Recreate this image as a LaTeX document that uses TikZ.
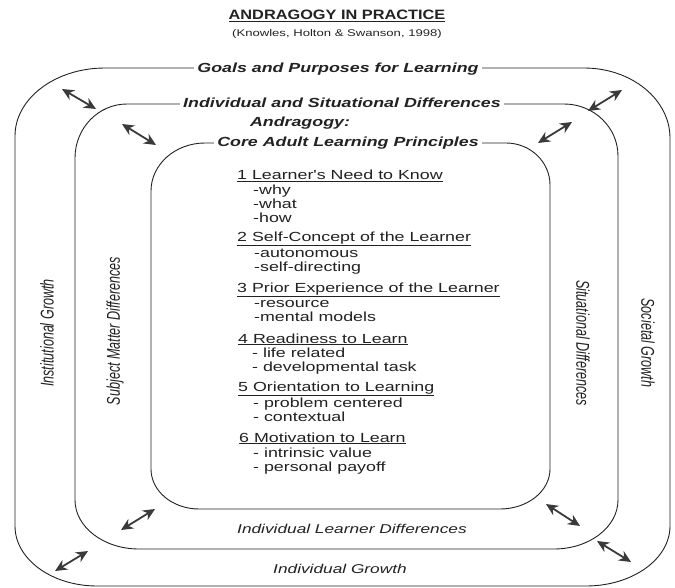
\documentclass[tikz,border=0pt]{standalone}
\usepackage{fontspec}
\setmainfont{Liberation Sans}
\newfontfamily\wf[FakeStretch=1.35]{Liberation Sans}
\newfontfamily\tf[FakeStretch=1.2]{Liberation Sans}
\newfontfamily\nf[FakeStretch=0.68]{Liberation Sans}
\usetikzlibrary{arrows.meta}
\definecolor{ink}{HTML}{222222}
\definecolor{arr}{HTML}{3A3A3A}
\begin{document}
\begin{tikzpicture}[x=1pt,y=-1pt,
  frame/.style={draw=ink,line width=0.9pt},
  onframe/.style={fill=white,inner xsep=3pt,inner ysep=1pt,text=ink,font=\wf\bfseries\itshape\fontsize{13.2}{15}\selectfont},
  item/.style={inner sep=0pt,text=ink,font=\wf\fontsize{13.2}{14}\selectfont,anchor=base west},
  side/.style={inner sep=0pt,text=ink,font=\nf\itshape\fontsize{18.5}{20}\selectfont},
  bot/.style={inner sep=0pt,text=ink,font=\wf\itshape\fontsize{12.8}{14}\selectfont},
  dbl/.style={arr,line width=1.8pt,{Stealth[length=12pt,width=11pt]}-{Stealth[length=12pt,width=11pt]}}]
\useasboundingbox (0,0) rectangle (675,588);
\fill[white] (0,0) rectangle (675,588);
% outer frame: L=15 R=670 T=68 B=586
\draw[frame] (105,68) -- (584,68) arc[start angle=-90,end angle=0,x radius=86,y radius=70]
  -- (670,526) arc[start angle=0,end angle=90,x radius=84,y radius=60]
  -- (97,586) arc[start angle=90,end angle=180,x radius=82,y radius=60]
  -- (15,136) arc[start angle=180,end angle=270,x radius=90,y radius=68] -- cycle;
% middle frame: L=75 R=618 T=104 B=549
\draw[frame] (127,104) -- (564,104) arc[start angle=-90,end angle=0,x radius=54,y radius=52]
  -- (618,500) arc[start angle=0,end angle=90,x radius=64,y radius=49]
  -- (139,549) arc[start angle=90,end angle=180,x radius=64,y radius=49]
  -- (75,158) arc[start angle=180,end angle=270,x radius=52,y radius=54] -- cycle;
% inner frame: L=151 R=550 T=143 B=509
\draw[frame] (205,143) -- (506,143) arc[start angle=-90,end angle=0,x radius=44,y radius=42]
  -- (550,469) arc[start angle=0,end angle=90,x radius=50,y radius=40]
  -- (199,509) arc[start angle=90,end angle=180,x radius=48,y radius=40]
  -- (151,191) arc[start angle=180,end angle=270,x radius=54,y radius=48] -- cycle;
% title
\node[inner sep=0pt,text=ink,font=\tf\bfseries\fontsize{13.6}{16}\selectfont] (title) at (337,16) {\underline{ANDRAGOGY IN PRACTICE}};
\node[inner sep=0pt,text=ink,font=\wf\fontsize{9.7}{12}\selectfont] (sub) at (337,34) {(Knowles, Holton \& Swanson, 1998)};
% labels on frames
\node[onframe] (goals) at (338,69) {Goals and Purposes for Learning};
\node[onframe] (isd) at (342,103) {Individual and Situational Differences};
\node[inner sep=0pt,text=ink,font=\wf\bfseries\itshape\fontsize{13.2}{15}\selectfont] (andr) at (300,123) {Andragogy:};
\node[onframe] (core) at (348,143) {Core Adult Learning Principles};
% list
\foreach \n/\xx/\yy/\t in {
  h1/237/179.5/{\underline{1 Learner's Need to Know}},
  a1/253/194.5/{-why}, a2/253/208.5/{-what}, a3/253/222.5/{-how},
  h2/237/241.5/{\underline{2 Self-Concept of the Learner}},
  b1/254/257.5/{-autonomous}, b2/254/272/{-self-directing},
  h3/237/292/{\underline{3 Prior Experience of the Learner}},
  c1/254/307.5/{-resource}, c2/254/321.5/{-mental models},
  h4/238/343/{\underline{4 Readiness to Learn}},
  d1/252/357.5/{- life related}, d2/252/371.5/{- developmental task},
  h5/238/391/{\underline{5 Orientation to Learning}},
  e1/253/407/{- problem centered}, e2/253/421/{- contextual},
  h6/239/442/{\underline{6 Motivation to Learn}},
  f1/253/457.5/{- intrinsic value}, f2/253/471.5/{- personal payoff}}
  {\node[item] (\n) at (\xx,\yy) {\t};}
% bottom labels
\node[bot] (ild) at (352,529) {Individual Learner Differences};
\node[bot] (ig) at (340,569) {Individual Growth};
% side labels
\node[side,rotate=90] (instg) at (47,333) {Institutional Growth};
\node[side,rotate=90] (smd) at (115,331) {Subject Matter Differences};
\node[side,rotate=-90] (sitd) at (583,343) {Situational Differences};
\node[side,rotate=-90] (socg) at (648,343) {Societal Growth};
% arrows
\coordinate (p1) at (62,89);  \coordinate (q1) at (96,109);
\coordinate (p2) at (122,124); \coordinate (q2) at (156,145);
\coordinate (p3) at (588,111); \coordinate (q3) at (622,90);
\coordinate (p4) at (538,143); \coordinate (q4) at (572,122);
\coordinate (p5) at (121,530); \coordinate (q5) at (155,509);
\coordinate (p6) at (55,571);  \coordinate (q6) at (88,551);
\coordinate (p7) at (546,504); \coordinate (q7) at (580,526);
\coordinate (p8) at (597,541); \coordinate (q8) at (631,562);
\foreach \i in {1,...,8} {\draw[dbl] (p\i) -- (q\i);}
\end{tikzpicture}
\end{document}
